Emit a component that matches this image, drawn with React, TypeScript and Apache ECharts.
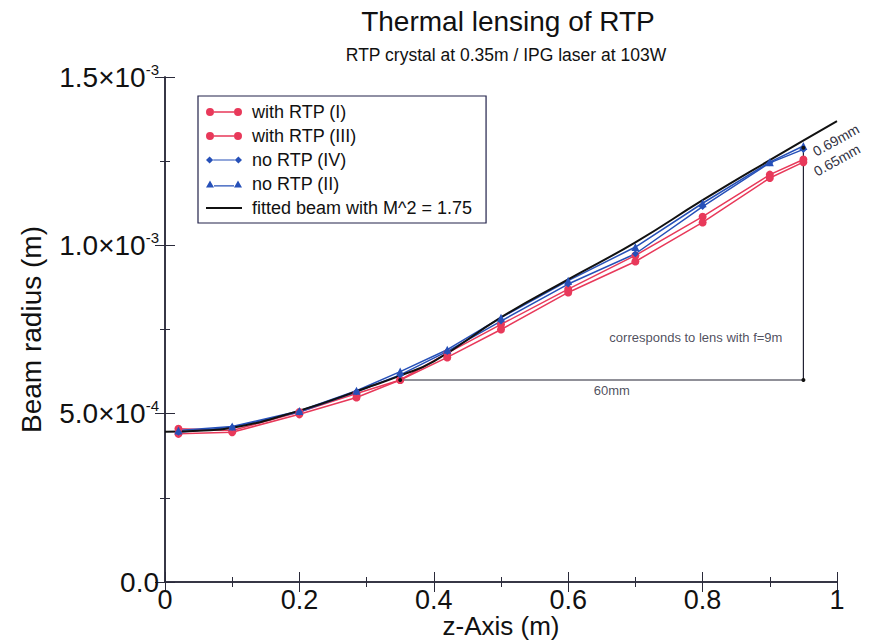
import React, { useEffect, useRef } from 'react';
import * as echarts from 'echarts';

// z positions of measured points (m)
const zPositions = [0.02, 0.1, 0.2, 0.285, 0.35, 0.42, 0.5, 0.6, 0.7, 0.8, 0.9, 0.95];
// beam radius (m)
const withRtpI = [4.55e-4, 4.5e-4, 5.05e-4, 5.6e-4, 6.0e-4, 6.8e-4, 7.65e-4, 8.7e-4, 9.7e-4, 1.085e-3, 1.21e-3, 1.255e-3];
const withRtpIII = [4.4e-4, 4.45e-4, 4.98e-4, 5.48e-4, 6.0e-4, 6.67e-4, 7.5e-4, 8.6e-4, 9.52e-4, 1.068e-3, 1.2e-3, 1.247e-3];
const noRtpIV = [4.45e-4, 4.6e-4, 5.05e-4, 5.65e-4, 6.15e-4, 6.85e-4, 7.75e-4, 8.85e-4, 9.75e-4, 1.115e-3, 1.245e-3, 1.285e-3];
const noRtpII = [4.5e-4, 4.62e-4, 5.08e-4, 5.68e-4, 6.25e-4, 6.9e-4, 7.85e-4, 8.95e-4, 9.95e-4, 1.125e-3, 1.247e-3, 1.295e-3];

// fitted beam curve
const fitZ = [0, 0.05, 0.1, 0.2, 0.3, 0.35, 0.4, 0.5, 0.6, 0.7, 0.8, 0.9, 1.0];
const fitRadius = [4.46e-4, 4.49e-4, 4.58e-4, 5.09e-4, 5.77e-4, 6.13e-4, 6.55e-4, 7.86e-4, 8.99e-4, 1.009e-3, 1.134e-3, 1.253e-3, 1.369e-3];

// annotation triangle
const triangleZ = [0.35, 0.95, 0.95];
const triangleR = [6.0e-4, 6.0e-4, 1.29e-3];

const seriesNames = ['with RTP (I)', 'with RTP (III)', 'no RTP (IV)', 'no RTP (II)', 'fitted beam with M^2 = 1.75'];
const xTicks = { min: 0, max: 1, interval: 0.2 };
const yTicks = { min: 0, max: 1.5e-3, interval: 5e-4 };

const RED = '#e8395a';
const BLUE = '#2650b8';
const FRAME = '#2a2a3a';

const pair = (xs: number[], ys: number[]) => xs.map((x, i) => [x, ys[i]]);

function yLabel(v: number): string {
  if (v === 0) return '{m|0.0}';
  const e = Math.floor(Math.log10(v) + 1e-9);
  const m = v / Math.pow(10, e);
  return `{m|${m.toFixed(1)}×10}{s|${e}}`;
}

const iconCircle = 'path://M0,5a4,4 0 1,0 8,0a4,4 0 1,0 -8,0Z M28,5a4,4 0 1,0 8,0a4,4 0 1,0 -8,0Z M8,4.3H28V5.7H8Z';
const iconDiamond = 'path://M0.5,5L4,1.5L7.5,5L4,8.5Z M28.5,5L32,1.5L35.5,5L32,8.5Z M7.5,4.4H28.5V5.6H7.5Z';
const iconTriangle = 'path://M0,8.5L4,1.5L8,8.5Z M28,8.5L32,1.5L36,8.5Z M8,6.2H28V7.4H8Z';

export default function App() {
  const ref = useRef<HTMLDivElement>(null);
  useEffect(() => {
    if (!ref.current) return;
    const chart = echarts.init(ref.current, undefined, { renderer: 'svg' });
    const font = 'Liberation Sans, Arial, sans-serif';
    const axisCommon = {
      type: 'value' as const,
      axisLine: { show: true, lineStyle: { color: FRAME, width: 1.5 } },
      axisTick: { show: true, inside: true, length: 10, lineStyle: { color: FRAME, width: 1 } },
      minorTick: { show: true, splitNumber: 2, length: 5, lineStyle: { color: FRAME, width: 1 } },
      splitLine: { show: false },
    };
    const option: any = {
      animation: false,
      backgroundColor: '#ffffff',
      textStyle: { fontFamily: font },
      graphic: [
        { type: 'text', style: { text: 'Thermal lensing of RTP', x: 508, y: 21, align: 'center', verticalAlign: 'middle', font: `28px ${font}`, fill: '#111' } },
        { type: 'text', style: { text: 'RTP crystal at 0.35m / IPG laser at 103W', x: 506, y: 55, align: 'center', verticalAlign: 'middle', font: `17.5px ${font}`, fill: '#111' } },
        { type: 'text', x: 836, y: 140, rotation: (29 * Math.PI) / 180, style: { text: '0.69mm', x: 0, y: 0, align: 'center', verticalAlign: 'middle', font: `14px ${font}`, fill: '#333344' } },
        { type: 'text', x: 837, y: 160, rotation: (29 * Math.PI) / 180, style: { text: '0.65mm', x: 0, y: 0, align: 'center', verticalAlign: 'middle', font: `14px ${font}`, fill: '#333344' } },
      ],
      grid: { left: 165, right: 34, top: 77, bottom: 58, containLabel: false, outerBoundsMode: 'none' },
      legend: {
        orient: 'vertical',
        left: 198,
        top: 96,
        itemWidth: 36,
        itemHeight: 10,
        itemGap: 6,
        padding: [7, 14, 6, 7],
        borderColor: '#22224a',
        borderWidth: 1.2,
        backgroundColor: '#ffffff',
        textStyle: { fontSize: 18, color: '#111', fontFamily: font, padding: [0, 0, 0, 5] },
        data: [
          { name: seriesNames[0], icon: iconCircle },
          { name: seriesNames[1], icon: iconCircle },
          { name: seriesNames[2], icon: iconDiamond },
          { name: seriesNames[3], icon: iconTriangle },
          { name: seriesNames[4], itemStyle: { opacity: 0 } },
        ],
      },
      xAxis: [
        {
          ...axisCommon,
          ...xTicks,
          position: 'bottom',
          name: 'z-Axis (m)',
          nameLocation: 'middle',
          nameGap: 31,
          nameMoveOverlap: false,
          nameTextStyle: { fontSize: 26, color: '#111', fontFamily: font },
          axisLabel: { fontSize: 27, color: '#111', margin: 4, fontFamily: font },
        },
        { ...axisCommon, ...xTicks, position: 'top', axisLabel: { show: false } },
      ],
      yAxis: [
        {
          ...axisCommon,
          ...yTicks,
          position: 'left',
          name: 'Beam radius (m)',
          nameLocation: 'middle',
          nameGap: 120,
          nameMoveOverlap: false,
          nameTextStyle: { fontSize: 28, color: '#111', fontFamily: font },
          axisLabel: {
            margin: 6,
            color: '#111',
            fontSize: 28,
            formatter: yLabel,
            rich: {
              m: { fontSize: 28, color: '#111', fontFamily: font },
              s: { fontSize: 15, color: '#111', fontFamily: font, padding: [0, 0, 16, 0] },
            },
          },
        },
        { ...axisCommon, ...yTicks, position: 'right', axisLabel: { show: false } },
      ],
      series: [
        {
          name: seriesNames[0], type: 'line', data: pair(zPositions, withRtpI),
          symbol: 'circle', symbolSize: 8, lineStyle: { color: RED, width: 1.5 }, itemStyle: { color: RED },
        },
        {
          name: seriesNames[1], type: 'line', data: pair(zPositions, withRtpIII),
          symbol: 'circle', symbolSize: 8, lineStyle: { color: RED, width: 1.5 }, itemStyle: { color: RED },
        },
        {
          name: seriesNames[2], type: 'line', data: pair(zPositions, noRtpIV),
          symbol: 'diamond', symbolSize: 7, lineStyle: { color: BLUE, width: 1.5 }, itemStyle: { color: BLUE },
        },
        {
          name: seriesNames[3], type: 'line', data: pair(zPositions, noRtpII),
          symbol: 'triangle', symbolSize: 8, lineStyle: { color: BLUE, width: 1.5 }, itemStyle: { color: BLUE },
        },
        {
          name: seriesNames[4], type: 'line', data: pair(fitZ, fitRadius), smooth: true,
          showSymbol: false, symbol: 'none', lineStyle: { color: '#111', width: 2 }, itemStyle: { color: '#111' },
        },
        {
          name: 'triangle', type: 'line', data: pair(triangleZ, triangleR), silent: true,
          symbol: 'circle', symbolSize: 4, lineStyle: { color: '#222233', width: 1.2 }, itemStyle: { color: '#111' },
        },
        {
          name: 'notes', type: 'scatter', silent: true, symbolSize: 0,
          data: [
            { name: 'corresponds to lens with f=9m', value: [0.79, 7.26e-4] },
            { name: '60mm', value: [0.665, 5.68e-4] },
          ],
          label: { show: true, position: 'inside', formatter: '{b}', fontSize: 13, color: '#222233', fontFamily: font },
        },
      ],
    };
    chart.setOption(option);
    return () => chart.dispose();
  }, []);
  return <div ref={ref} style={{ position: 'fixed', left: 0, top: 0, width: 871, height: 640 }} />;
}
